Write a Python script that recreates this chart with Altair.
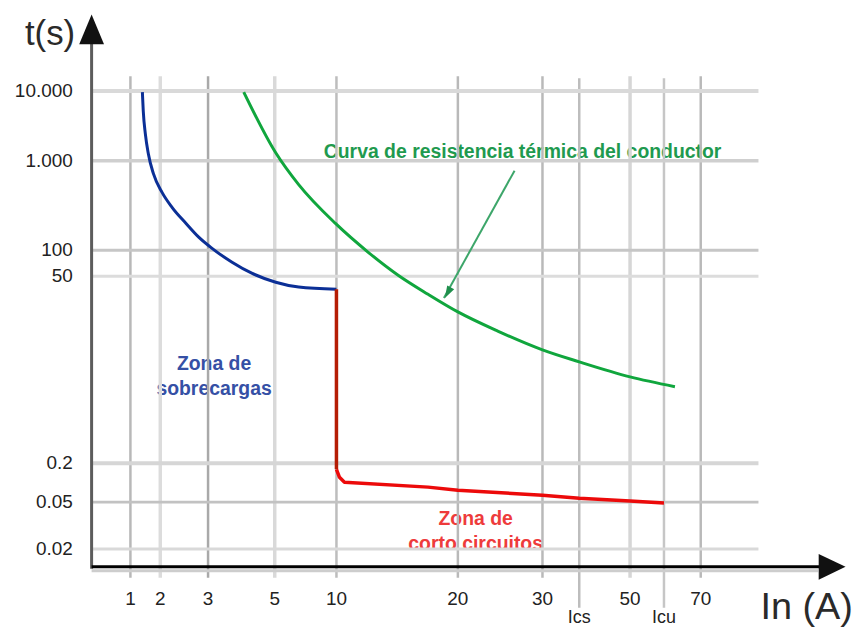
import altair as alt
import pandas as pd

# ---------------- values ----------------
x_tick_values = [1, 2, 3, 5, 10, 20, 30, 50, 70]
x_tick_labels = ["1", "2", "3", "5", "10", "20", "30", "50", "70"]
x_mark_values = [38.4, 59.6]
x_mark_labels = ["Ics", "Icu"]
y_tick_values = [10000, 1000, 100, 50, 0.2, 0.05, 0.02]
y_tick_labels = ["10.000", "1.000", "100", "50", "0.2", "0.05", "0.02"]

# overload (thermal) trip curve - blue
overload_I = [1.40, 1.43, 1.50, 1.60, 1.77, 2.04, 2.25, 2.54, 2.81, 3.12, 3.72, 4.31, 5.08, 6.94, 10.0]
overload_t = [9871, 7428, 4471, 1900, 870, 680, 530, 370, 230, 120, 77, 55.8, 48.4, 47.1, 46.5]

# short-circuit (magnetic) trip - red
short_vert_I = [10, 10]
short_vert_t = [46.5, 0.177]
short_I = [10, 10.25, 10.66, 17.54, 20, 30, 38.4, 50, 59.6]
short_t = [0.177, 0.146, 0.127, 0.108, 0.096, 0.077, 0.065, 0.054, 0.0494]

# conductor thermal withstand curve - green
cable_I = [4.07, 5.08, 6.94, 9.92, 12.62, 15.08, 17.54, 20, 24.71, 30, 38.4, 50, 62.7]
cable_t = [9871, 2029, 760, 370, 96.2, 51.9, 45.2, 40.5, 35.4, 30.4, 27.2, 23.2, 20.6]

# pointer from the label to the green curve
pointer_I = [26.7, 18.85]
pointer_t = [900, 44.2]
pointer_head_I = [19.17]
pointer_head_t = [45.6]

# annotations
annot_text = ["Curva de resistencia térmica del conductor", "Zona de", "sobrecargas",
              "Zona de", "corto circuitos"]
annot_I = [27.65, 3.18, 3.18, 22.1, 22.1]
annot_t = [2157, 26.7, 20.1, 0.0392, 0.0232]

# ---------------- layout / style ----------------
X_RANGE = [123, 153, 201, 268, 330, 452, 537, 625, 696]
Y_DOMAIN = sorted(y_tick_values)
Y_RANGE = [542, 495, 456, 268, 242, 152, 82]
FONT = "Liberation Sans"

x_grid_shade = ["#b8b8b8", "#dcdcdc", "#a9a9a9", "#d9d9d9", "#bdbdbd", "#b9b9b9",
                "#b9b9b9", "#d6d6d6", "#b9b9b9"]
x_grid_w = [2.5, 3.5, 2.5, 3.5, 2.5, 2.5, 2.5, 3.5, 2.5]
x_mark_shade = ["#bdbdbd", "#c6c6c6"]
y_grid_shade = ["#d9d9d9", "#cfcfcf", "#c6c6c6", "#dcdcdc", "#d6d6d6", "#c2c2c2", "#d9d9d9"]
y_grid_w = [4, 3.5, 3, 3, 4, 3, 3]
y_label_dy = [0, 1, 1, -3, 0, 3, -1]
annot_color = ["#1f9a4f", "#3550a5", "#3550a5", "#ee3b3b", "#ee3b3b"]

xs = alt.Scale(type="linear", domain=x_tick_values, range=X_RANGE, zero=False, nice=False)
ys = alt.Scale(type="linear", domain=Y_DOMAIN, range=Y_RANGE, zero=False, nice=False)


def X(field="I"):
    return alt.X(f"{field}:Q", scale=xs, axis=None)


def Y(field="t"):
    return alt.Y(f"{field}:Q", scale=ys, axis=None)


one = pd.DataFrame({"k": [0]})

# ---------------- text annotations (below grid) ----------------
annot_df = pd.DataFrame({"I": annot_I, "t": annot_t, "label": annot_text, "c": annot_color})
annots = alt.Chart(annot_df).mark_text(
    font=FONT, fontSize=19.5, fontWeight="bold", align="center", baseline="middle"
).encode(x=X(), y=Y(), text="label:N", color=alt.Color("c:N", scale=None))

# ---------------- grid lines ----------------
xg_df = pd.DataFrame({"I": x_tick_values, "c": x_grid_shade, "w": x_grid_w})
xgrid = alt.Chart(xg_df).mark_rule().encode(
    x=X(), y=alt.value(67), y2=alt.value(571),
    color=alt.Color("c:N", scale=None), strokeWidth=alt.StrokeWidth("w:Q", scale=None))
xm_df = pd.DataFrame({"I": x_mark_values, "c": x_mark_shade})
xmgrid = alt.Chart(xm_df).mark_rule(strokeWidth=2.5).encode(
    x=X(), y=alt.value(69), y2=alt.value(601), color=alt.Color("c:N", scale=None))
yg_df = pd.DataFrame({"t": y_tick_values, "c": y_grid_shade, "w": y_grid_w})
ygrid = alt.Chart(yg_df).mark_rule().encode(
    y=Y(), x=alt.value(84), x2=alt.value(754),
    color=alt.Color("c:N", scale=None), strokeWidth=alt.StrokeWidth("w:Q", scale=None))

# ---------------- curves ----------------
def curve(I, t, color, width, interp="linear"):
    df = pd.DataFrame({"I": I, "t": t, "o": list(range(len(I)))})
    return alt.Chart(df).mark_line(
        color=color, strokeWidth=width, strokeJoin="round", interpolate=interp
    ).encode(x=X(), y=Y(), order="o:Q")

blue = curve(overload_I, overload_t, "#0b2f96", 3, "monotone")
red_v = curve(short_vert_I, short_vert_t, "#b51d05", 3.5)
red = curve(short_I, short_t, "#ec0a0a", 3.5)
green = curve(cable_I, cable_t, "#10a63d", 3, "monotone")
pointer = curve(pointer_I, pointer_t, "#3da66a", 2)
head = alt.Chart(pd.DataFrame({"I": pointer_head_I, "t": pointer_head_t})).mark_point(
    shape="M 0 -1 L 0.65 1 L -0.65 1 Z", filled=True, opacity=1, size=150,
    color="#1f8f4c", angle=208.7).encode(x=X(), y=Y())

# ---------------- tick labels ----------------
ylab_df = pd.DataFrame({"t": y_tick_values, "label": y_tick_labels, "dy": y_label_dy})
ylab = alt.Chart(ylab_df).mark_text(
    font=FONT, fontSize=19, align="right", baseline="middle", color="#222222"
).encode(y=Y(), x=alt.value(65), text="label:N", yOffset=alt.YOffset("dy:Q", scale=None))
xlab = alt.Chart(pd.DataFrame({"I": x_tick_values, "label": x_tick_labels})).mark_text(
    font=FONT, fontSize=19, align="center", baseline="middle", color="#222222"
).encode(x=X(), y=alt.value(592), text="label:N")
xmlab = alt.Chart(pd.DataFrame({"I": x_mark_values, "label": x_mark_labels})).mark_text(
    font=FONT, fontSize=18, align="center", baseline="middle", color="#222222"
).encode(x=X(), y=alt.value(611), text="label:N")

# ---------------- axes with arrows ----------------
y_axis = alt.Chart(one).mark_rule(color="#5c5c5c", strokeWidth=3).encode(
    x=alt.value(84), y=alt.value(34), y2=alt.value(562))
x_shadow = alt.Chart(one).mark_rule(color="#cdcdcd", strokeWidth=3).encode(
    x=alt.value(84), x2=alt.value(814), y=alt.value(564))
x_axis = alt.Chart(one).mark_rule(color="#000000", strokeWidth=3).encode(
    x=alt.value(84), x2=alt.value(816), y=alt.value(560))
y_arrow = alt.Chart(one).mark_point(
    shape="M -0.83 1 L 0 -1 L 0.83 1 Z", filled=True, opacity=1, size=900, color="#111111"
).encode(x=alt.value(84), y=alt.value(20))
x_arrow = alt.Chart(one).mark_point(
    shape="M -1 -0.96 L 1 0 L -1 0.96 Z", filled=True, opacity=1, size=729, color="#111111"
).encode(x=alt.value(828), y=alt.value(560))
t_title = alt.Chart(one).mark_text(
    font=FONT, fontSize=35, align="left", baseline="middle", color="#2a2a2a", text="t(s)"
).encode(x=alt.value(17), y=alt.value(25))
i_title = alt.Chart(one).mark_text(
    font=FONT, fontSize=38, align="left", baseline="middle", color="#2a2a2a", text="In (A)"
).encode(x=alt.value(756), y=alt.value(601))

chart = alt.layer(
    annots, xgrid, xmgrid, ygrid,
    blue, red_v, red, green, pointer, head,
    ylab, xlab, xmlab,
    x_shadow, y_axis, x_axis, y_arrow, x_arrow, t_title, i_title,
).properties(
    width=850, height=620, padding=0, autosize=alt.AutoSizeParams(type="none")
).configure_view(stroke=None)

chart.save("out.html", embed_options={"renderer": "svg", "actions": False})
